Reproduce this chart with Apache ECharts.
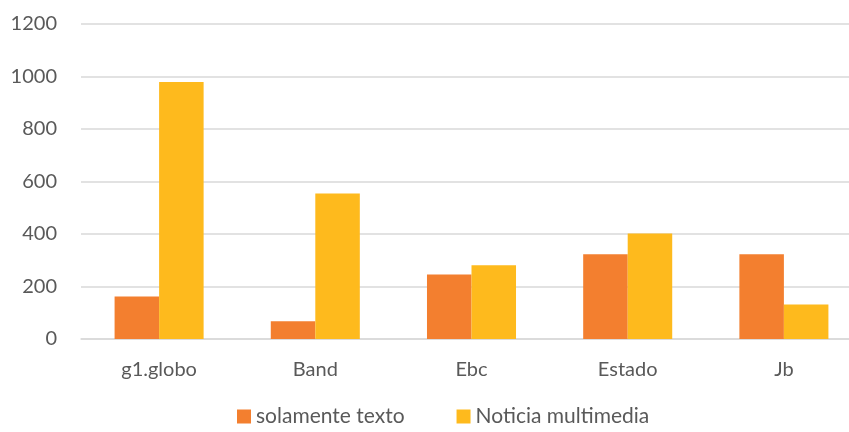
<!DOCTYPE html>
<html>
<head>
<meta charset="utf-8">
<script src="https://cdn.jsdelivr.net/npm/echarts@6/dist/echarts.min.js"></script>
<style>
  html, body { margin: 0; padding: 0; background: #fff; overflow: hidden; }
  /* el grafico original esta recortado a la derecha: el lienzo es algo mas ancho */
  #chart { width: 862px; height: 432px; }
</style>
</head>
<body>
<div id="chart"></div>
<script>
// datos
var categorias = ['g1.globo', 'Band', 'Ebc', 'Estado', 'Jb']
var soloTexto = [162, 68, 246, 323, 323]
var multimedia = [979, 554, 281, 402, 131]
var ticksY = [0, 200, 400, 600, 800, 1000, 1200]

var chart = echarts.init(document.getElementById('chart'))
var fuente = 'Lato, "Open Sans", sans-serif'
var option = {
  animation: false,
  textStyle: { fontFamily: fuente },
  legend: {
    bottom: 0,
    left: 232,
    itemWidth: 14,
    itemHeight: 14,
    itemGap: 52,
    icon: 'rect',
    textStyle: { color: '#595959', fontSize: 21, fontFamily: fuente },
    data: ['solamente texto', 'Noticia multimedia']
  },
  grid: { left: 81, top: 24, right: 0, height: 315 },
  xAxis: {
    type: 'category',
    data: categorias,
    axisLine: { show: true, lineStyle: { color: '#D9D9D9', width: 1.5 } },
    axisTick: { show: false },
    axisLabel: { color: '#595959', fontSize: 20, margin: 21, fontFamily: fuente }
  },
  yAxis: {
    type: 'value',
    min: ticksY[0],
    max: ticksY[ticksY.length - 1],
    interval: 200,
    axisLine: { show: false },
    axisTick: { show: false },
    axisLabel: {
      color: '#595959',
      fontSize: 20,
      margin: 24,
      fontFamily: fuente,
      formatter: function (v) { return String(v) }
    },
    splitLine: { lineStyle: { color: '#D9D9D9', width: 1.5 } }
  },
  series: [
    {
      name: 'solamente texto',
      type: 'bar',
      data: soloTexto,
      barGap: '0%',
      barCategoryGap: '43%',
      itemStyle: { color: '#F37F2F' }
    },
    {
      name: 'Noticia multimedia',
      type: 'bar',
      data: multimedia,
      itemStyle: { color: '#FEBA1D' }
    }
  ]
}
chart.setOption(option)
</script>
</body>
</html>
